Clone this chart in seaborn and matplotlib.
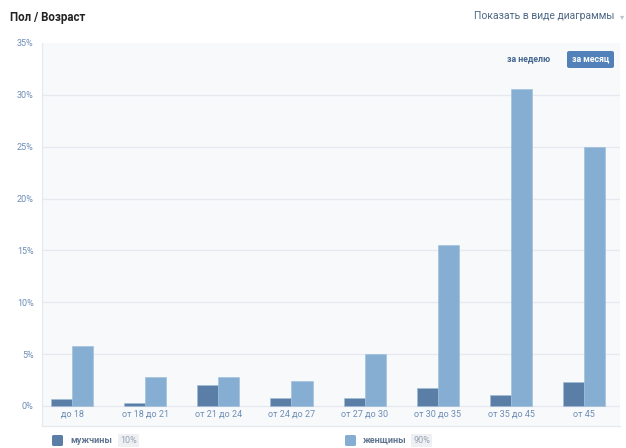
import pandas as pd
import numpy as np
import matplotlib.pyplot as plt
import seaborn as sns
from matplotlib.patches import FancyBboxPatch

# Data (percent of audience)
age_groups = ["до 18", "от 18 до 21", "от 21 до 24", "от 24 до 27",
              "от 27 до 30", "от 30 до 35", "от 35 до 45", "от 45"]
men = [0.65, 0.3, 2.0, 0.8, 0.8, 1.7, 1.05, 2.3]
women = [5.75, 2.75, 2.75, 2.4, 5.0, 15.5, 30.6, 25.0]
series_names = ["мужчины", "женщины"]
series_share = ["10%", "90%"]
y_ticks = [0, 5, 10, 15, 20, 25, 30, 35]

colors = ["#5b7ea6", "#85aed2"]
tick_color = "#6d8db5"
grid_color = "#e6e9ee"

df = pd.DataFrame({
    "group": age_groups * 2,
    "value": men + women,
    "sex": [series_names[0]] * len(men) + [series_names[1]] * len(women),
})

sns.set_theme(style="white")
plt.rcParams["font.family"] = ["Roboto", "DejaVu Sans"]

fig = plt.figure(figsize=(6.26, 4.48), dpi=100)
ax = fig.add_axes([42 / 626, 22 / 448, 578 / 626, 383 / 448])
ax.set_facecolor("#f8f9fb")

sns.barplot(data=df, x="group", y="value", hue="sex", order=age_groups,
            hue_order=series_names, palette=colors, width=0.575, gap=0,
            saturation=1, edgecolor="#9dbddb", linewidth=0.4, ax=ax,
            legend=False, zorder=3)

ax.set_xlim(-0.41, 7.49)
ax.set_ylim(-1.93, 35)
ax.set_yticks(y_ticks)
ax.set_yticklabels([f"{t}%" for t in y_ticks])
for t in y_ticks[:-1]:
    ax.axhline(t, color=grid_color, lw=0.9, zorder=1)

ax.set_xlabel("")
ax.set_ylabel("")
ax.tick_params(axis="y", length=0, pad=6, labelsize=6.5, labelcolor=tick_color)
ax.tick_params(axis="x", length=0, pad=-11.8, labelsize=6.5, labelcolor=tick_color)

for side in ["top", "right"]:
    ax.spines[side].set_visible(False)
for side in ["left", "bottom"]:
    ax.spines[side].set_color(grid_color)
    ax.spines[side].set_linewidth(0.9)

# header
fig.text(10 / 626, 1 - 18 / 448, "Пол / Возраст", fontsize=8.3, fontweight="bold",
         color="#222222", va="center", ha="left")
fig.text(614 / 626, 1 - 16 / 448, "Показать в виде диаграммы", fontsize=7.5,
         color="#4f6885", va="center", ha="right")
fig.text(622 / 626, 1 - 17 / 448, "▾", fontsize=6, color="#b8c2cf",
         va="center", ha="center", family="DejaVu Sans")

# period switch
fig.text(529 / 626, 1 - 59 / 448, "за неделю", fontsize=6.3, fontweight="bold",
         color="#45678f", va="center", ha="center")
fig.patches.append(FancyBboxPatch((567 / 626, 1 - 68 / 448), 47 / 626, 17 / 448,
                                  boxstyle="round,pad=0,rounding_size=0.004",
                                  transform=fig.transFigure, facecolor="#5181b8",
                                  edgecolor="none", zorder=5))
fig.text(590.5 / 626, 1 - 59.5 / 448, "за месяц", fontsize=6.3, fontweight="bold",
         color="white", va="center", ha="center", zorder=6)

# legend
for i, (name, share) in enumerate(zip(series_names, series_share)):
    x0 = [52, 345][i]
    fig.patches.append(FancyBboxPatch((x0 / 626, 1 - 446 / 448), 11 / 626, 11 / 448,
                                      boxstyle="round,pad=0,rounding_size=0.003",
                                      transform=fig.transFigure,
                                      facecolor=colors[i], edgecolor="none"))
    fig.text((x0 + 18) / 626, 1 - 440.5 / 448, name, fontsize=6.5, fontweight="bold",
             color="#5f7590", va="center", ha="left")
    fig.text((x0 + 68) / 626, 1 - 440.5 / 448, share, fontsize=6.5,
             color="#97a3b2", va="center", ha="left",
             bbox=dict(boxstyle="square,pad=0.25", facecolor="#eef0f3",
                       edgecolor="none"))

fig.savefig("out.png", dpi=100, facecolor="white")
